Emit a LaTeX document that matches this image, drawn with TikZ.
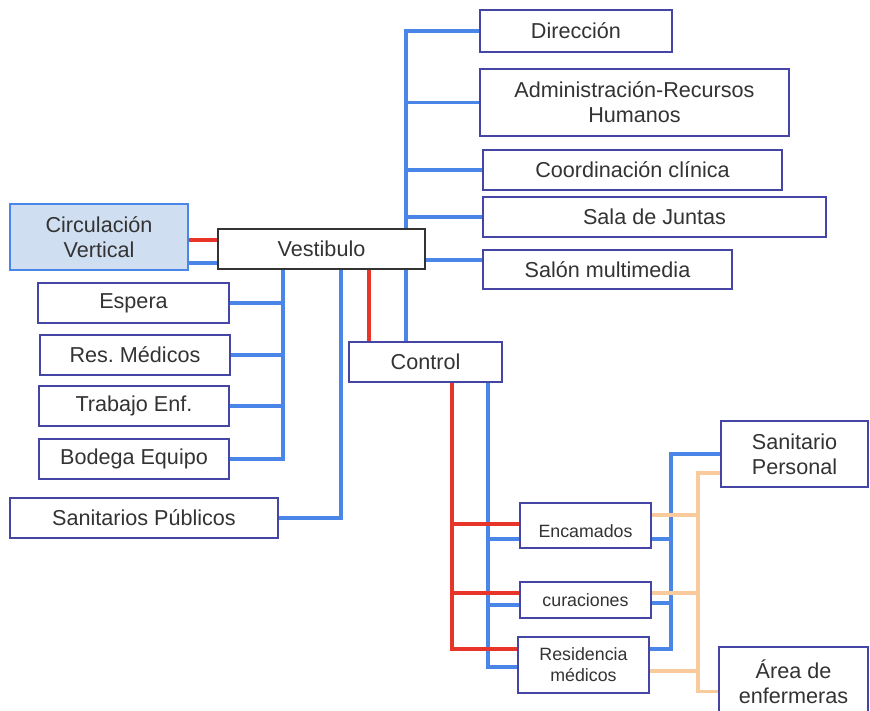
\documentclass[tikz,border=0pt]{standalone}
\usepackage{fontspec}
\setmainfont{Liberation Sans}
\frenchspacing
\usetikzlibrary{backgrounds}

\definecolor{boxline}{HTML}{4545A5}
\definecolor{lineblue}{HTML}{4A86E8}
\definecolor{linered}{HTML}{E8352A}
\definecolor{linepeach}{HTML}{F9CB9C}
\definecolor{circfill}{HTML}{CFDFF1}
\definecolor{txt}{HTML}{333333}

\tikzset{
room/.style={draw=boxline, line width=1.4pt, fill=white, align=center, inner sep=0pt,
  text=txt, font=\fontsize{21.6}{25}\selectfont},
smallroom/.style={room, font=\fontsize{17.8}{21}\selectfont},
bl/.style={draw=lineblue, line width=3.2pt},
rd/.style={draw=linered, line width=3.2pt},
pc/.style={draw=linepeach, line width=3.2pt}
}

\begin{document}
\begin{tikzpicture}[x=1pt, y=-1pt]

\useasboundingbox (0,0) rectangle (870,710);

\node (circ) at (99,237) [room, fill=circfill, draw=lineblue, minimum width=178pt, minimum height=66pt] {Circulación\\Vertical};
\node (vest) at (321.5,249) [room, draw=txt, minimum width=207pt, minimum height=40pt] {Vestibulo};

\node (esp) at (133.5,303) [room, minimum width=191pt, minimum height=40pt] {Espera};
\node (resm) at (135,355) [room, minimum width=190pt, minimum height=40pt] {Res. Médicos};
\node (trab) at (134,406) [room, minimum width=190pt, minimum height=40pt] {Trabajo Enf.};
\node (bod) at (134,459) [room, minimum width=190pt, minimum height=40pt] {Bodega Equipo};
\node (sanp) at (144,518) [room, minimum width=268pt, minimum height=40pt] {Sanitarios Públicos};

\node (dir) at (576,31) [room, minimum width=192pt, minimum height=42pt] {Dirección};
\node (adm) at (634.5,102.5) [room, minimum width=309pt, minimum height=67pt] {Administración-Recursos\\Humanos};
\node (coord) at (632.5,170) [room, minimum width=299pt, minimum height=40pt] {Coordinación clínica};
\node (sala) at (654.5,217) [room, minimum width=343pt, minimum height=40pt] {Sala de Juntas};
\node (salon) at (607.5,269.5) [room, minimum width=249pt, minimum height=39pt] {Salón multimedia};

\node (ctrl) at (425.5,362) [room, minimum width=153pt, minimum height=40pt] {Control};

\node (enc) at (585.5,525.5) [smallroom, minimum width=131pt, minimum height=45pt] {\rule{0pt}{25pt}Encamados};
\node (cur) at (585.5,600) [smallroom, minimum width=131pt, minimum height=36pt] {curaciones};
\node (resid) at (583.5,665) [smallroom, minimum width=131pt, minimum height=56pt] {Residencia\\médicos};

\node (sper) at (794.5,454) [room, minimum width=147pt, minimum height=66pt] {Sanitario\\Personal};
\node (area) at (793.5,681.5) [room, minimum width=149pt, minimum height=69pt] {Área de\\enfermeras};

%%%%%%%%%%%%%%%%%%%%%%%%%%%%%%%%%%%%%%%%%%%%%%%%%%%%%%%%%%%%%%%%%%%%%%%%%%%%%%%%%%
\coordinate (jl) at (283,459);
\coordinate (js) at (341,518);
\coordinate (jr) at (369,300);
\coordinate (jt) at (406,300);
\coordinate (jcr) at (452,649);
\coordinate (jcb) at (488,667);
\coordinate (jrb) at (671,649);
\coordinate (jp) at (698,473);

\begin{scope}[on background layer]
% vestibulo
\draw [bl] ([yshift=-26pt]circ.east) -- ([yshift=-14pt]vest.west);
\draw [bl] (vest.south -| jl) |- (bod.east);
\foreach \n in {esp,resm,trab}
  \draw [bl] (\n.east) -- (\n.east -| jl);
\draw [bl] (vest.south -| js) |- (sanp.east);
\draw [bl] (ctrl.north -| jt) |- (dir.west);
\foreach \n in {adm,coord,sala}
  \draw [bl] (\n.west) -- (\n.west -| jt);
\draw [bl] ([yshift=-11pt]vest.east) -- ([yshift=9.5pt]salon.west);
\draw [rd] ([yshift=-3pt]circ.east) -- ([yshift=9pt]vest.west);
\draw [rd] (vest.south -| jr) -- (ctrl.north -| jr);

% control
\draw [bl] (ctrl.south -| jcb) -- (jcb) -- ([yshift=-2pt]resid.west);
\foreach \n/\s in {enc/-13.5,cur/-5}
  \draw [bl] ([yshift=\s pt]\n.west) -| (jcb);
\draw [bl] ([yshift=16pt]resid.east) -- (jrb) |- (sper.west);
\foreach \n/\s in {enc/-13.5,cur/-3}
  \draw [bl] ([yshift=\s pt]\n.east) -| (jrb);
\draw [rd] (ctrl.south -| jcr) -- (jcr) -- ([yshift=16pt]resid.west);
\foreach \n/\s in {enc/1.5,cur/7}
  \draw [rd] ([yshift=\s pt]\n.west) -| (jcr);
\draw [pc] ([yshift=-19pt]sper.west) -- (jp) |- ([yshift=-10pt]area.west);
\foreach \n/\s in {enc/10.5,cur/7,resid/-6}
  \draw [pc] ([yshift=\s pt]\n.east) -| (jp);
\end{scope}

\end{tikzpicture}
\end{document}
